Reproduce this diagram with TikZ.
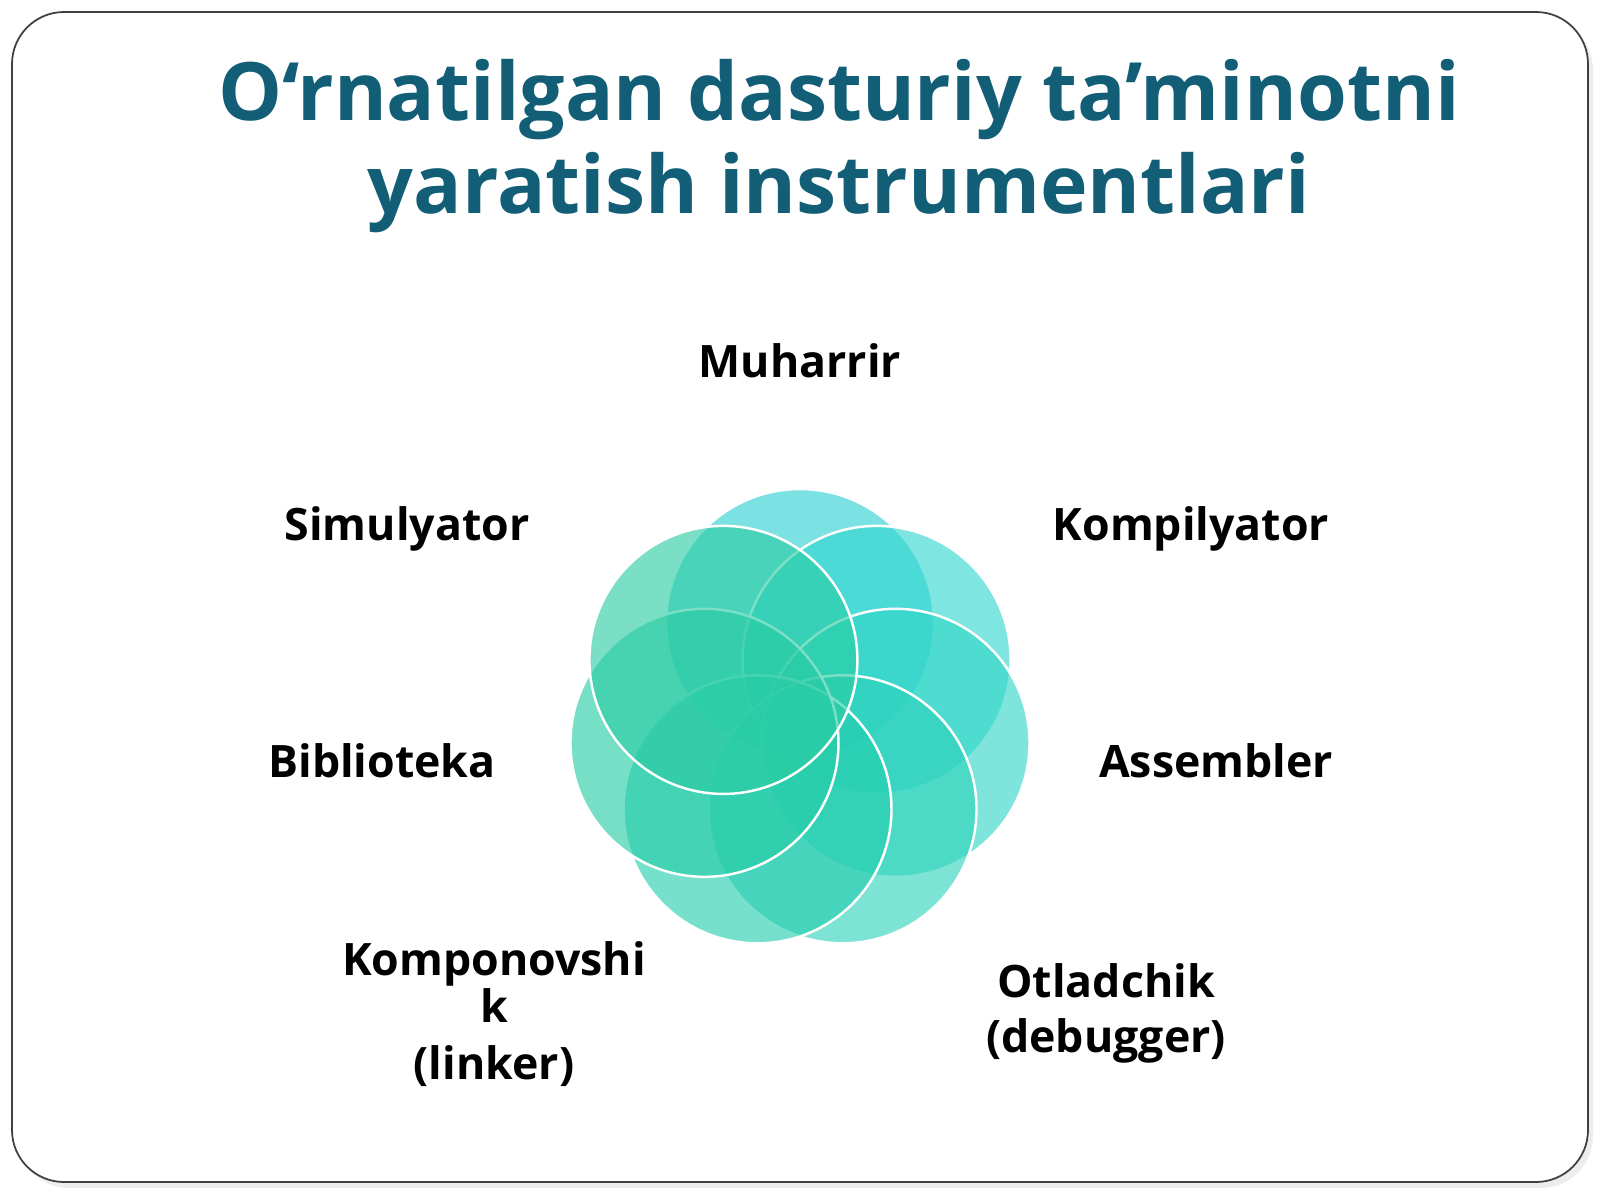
\documentclass[tikz,border=0pt]{standalone}
\usepackage{fontspec}
\setmainfont{Open Sans}
\usetikzlibrary{positioning,calc}

\definecolor{titlecol}{RGB}{18,94,118}
\definecolor{petalA}{RGB}{45,208,211}
\definecolor{petalB}{RGB}{48,214,207}
\definecolor{petalC}{RGB}{50,214,199}
\definecolor{petalD}{RGB}{46,210,186}
\definecolor{petalE}{RGB}{37,206,174}
\definecolor{petalF}{RGB}{38,204,166}
\definecolor{petalG}{RGB}{42,204,163}

\tikzset{
  tool/.style={font=\fontsize{12.7}{15.6}\selectfont\bfseries, text=black, anchor=base, align=center, inner sep=0pt},
  petal/.style={fill opacity=0.62, draw=white, line width=0.7pt}
}

\begin{document}
\begin{tikzpicture}[x=0.01cm,y=-0.01cm]

			\useasboundingbox (0,0) rectangle (1600,1200);
			
			% slide frame
			\fill[black!7, rounded corners=0.52cm] (17,18) rectangle (1593,1188);
			\filldraw[fill=white, draw=black!75, line width=0.5pt, rounded corners=0.52cm] (12,12) rectangle (1588,1182);
			
			\node[font=\fontsize{22.9}{26.4}\selectfont\bfseries, text=titlecol, anchor=base, align=center] (title) at (839,213) {O‘rnatilgan dasturiy ta’minotni\\yaratish instrumentlari};
			
			% petals
			\coordinate (flower) at (800,721);
			\foreach \a/\c in {-90/petalA, -38.57/petalB, 12.86/petalC, 64.29/petalD, 115.71/petalE, 167.14/petalF, 218.57/petalG}
				\filldraw[petal, fill=\c] ($(flower)+(\a:98)$) circle (134);
			
			\node[tool] (muharrir) at (800,377) {Muharrir};
			\node[tool] (kompilyator) at (1191,540) {Kompilyator};
			\node[tool] (assembler) at (1216,777) {Assembler};
			\node[tool] (otladchik) at (1106,1052) {Otladchik\\(debugger)};
			\node[tool] (komponovshik) at (494,1079) {Komponovshi\\[-2.3pt]k\\[0.6pt](linker)};
			\node[tool] (biblioteka) at (382,777) {Biblioteka};
			\node[tool] (simulyator) at (407,540) {Simulyator};
		\end{tikzpicture}
\end{document}
